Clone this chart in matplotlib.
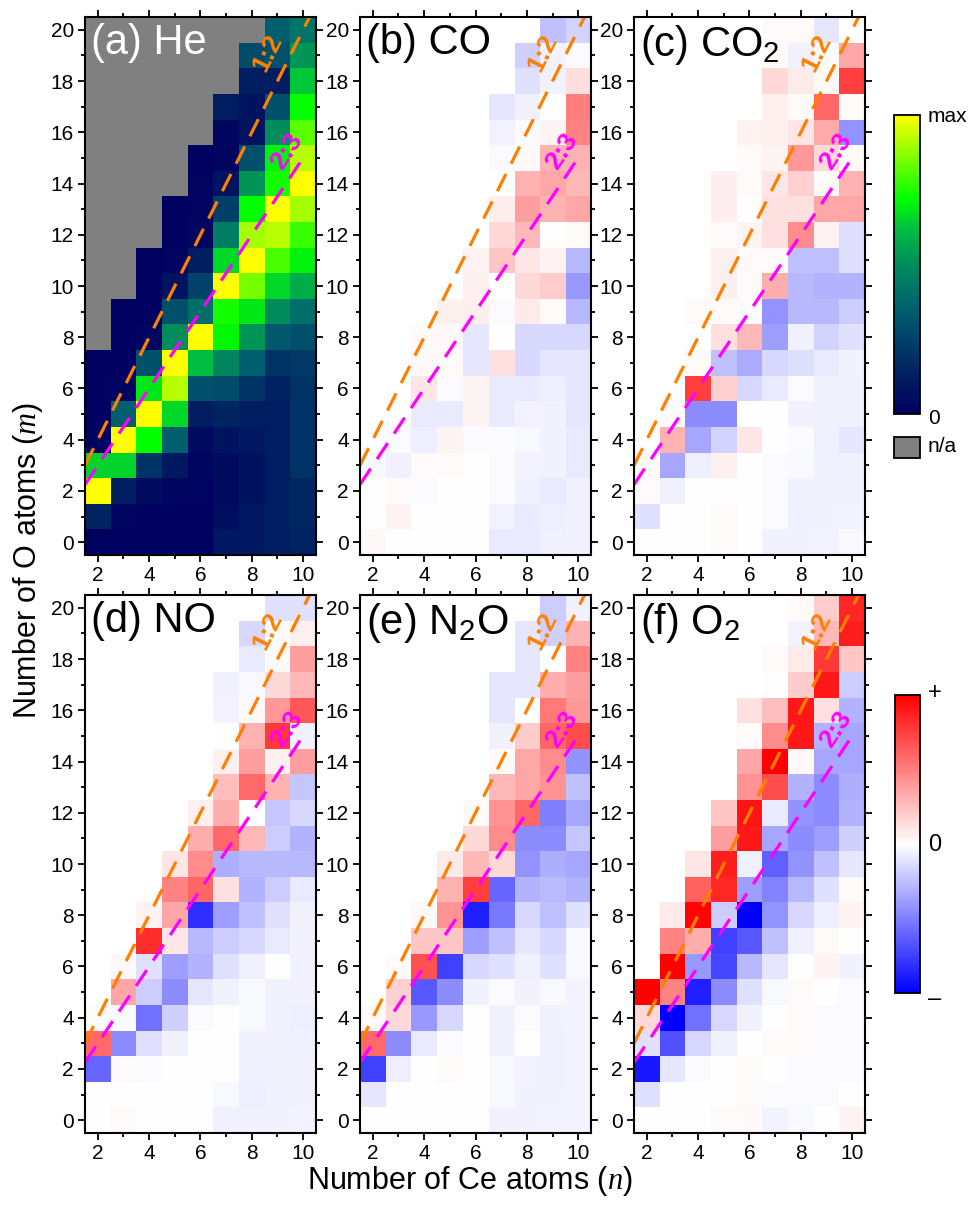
import numpy as np
import matplotlib
matplotlib.use("Agg")
import matplotlib.pyplot as plt
from matplotlib.colors import LinearSegmentedColormap, Normalize
from matplotlib.cm import ScalarMappable
from matplotlib.patches import Rectangle

plt.rcParams['font.family'] = ['Liberation Sans', 'DejaVu Sans']
plt.rcParams['mathtext.fontset'] = 'custom'
plt.rcParams['mathtext.rm'] = 'Liberation Sans'
plt.rcParams['mathtext.it'] = 'Liberation Serif:italic'
plt.rcParams['mathtext.default'] = 'rm'

# cluster sizes: Ce atoms (columns) and O atoms (rows)
n_atoms = np.arange(2, 11)
m_atoms = np.arange(0, 21)

# each inner list is one n column, values for m = 0, 1, 2, ...
# (a) He: relative abundance 0..1, missing cells = n/a
he = [
    [0, 0.15, 1.0, 0.65, 0.02, 0.01, 0.01, 0.0],
    [0, 0.02, 0.12, 0.65, 1.0, 0.35, 0.02, 0.0, 0.0, 0.0],
    [0, 0, 0.05, 0.2, 0.72, 1.0, 0.68, 0.3, 0.03, 0.0, 0.0, 0.0],
    [0, 0, 0.03, 0.1, 0.35, 0.66, 0.92, 1.0, 0.5, 0.3, 0.08, 0.02, 0.0, 0.0],
    [0, 0, 0.02, 0.03, 0.05, 0.12, 0.3, 0.62, 1.0, 0.4, 0.25, 0.12, 0.03, 0.02, 0.02, 0.0],
    [0.1, 0.06, 0.05, 0.05, 0.08, 0.15, 0.28, 0.48, 0.71, 0.74, 1.0, 0.66, 0.45, 0.24, 0.08, 0.02, 0.03, 0.12],
    [0.1, 0.1, 0.08, 0.08, 0.1, 0.12, 0.2, 0.35, 0.52, 0.68, 0.85, 1.0, 0.9, 0.72, 0.52, 0.3, 0.08, 0.08, 0.12, 0.28],
    [0.12, 0.12, 0.12, 0.12, 0.12, 0.12, 0.14, 0.2, 0.33, 0.5, 0.66, 0.8, 0.92, 1.0, 0.74, 0.7, 0.5, 0.3, 0.12, 0.3, 0.35],
    [0.15, 0.16, 0.16, 0.2, 0.2, 0.2, 0.2, 0.22, 0.3, 0.4, 0.58, 0.7, 0.78, 0.9, 1.0, 0.92, 0.82, 0.72, 0.63, 0.52, 0.42],
]

# (b)-(f): signed change, -1..+1
co = [
    [0.03, 0, 0, -0.03],
    [0, 0.05, 0.02, -0.06, -0.02],
    [0, 0, -0.02, 0.02, -0.07, -0.08, 0.1, 0.03, 0.02],
    [0, 0, 0, 0.02, 0.04, -0.08, -0.02, 0.02, 0.03, 0.06],
    [0, 0, 0, 0, -0.02, 0.04, 0.04, -0.1, -0.1, 0.07, 0.06, 0.05],
    [-0.08, -0.04, -0.02, -0.02, -0.02, -0.08, -0.08, 0.12, 0, -0.02, 0, 0.22, 0.15, 0.07, 0, -0.02, -0.04, -0.1],
    [-0.08, -0.08, -0.06, -0.04, -0.03, -0.04, -0.08, -0.15, -0.15, 0.08, 0.15, 0.1, 0.28, 0.38, 0.3, 0.02, -0.02, -0.06, -0.12, -0.18],
    [-0.06, -0.07, -0.08, -0.05, -0.05, -0.05, -0.07, -0.1, -0.15, 0.02, 0.2, 0.05, 0, 0.3, 0.35, 0.3, 0.04, 0, -0.05, -0.04, -0.25],
    [-0.05, -0.05, -0.05, -0.08, -0.08, -0.1, -0.1, -0.1, -0.15, -0.28, -0.4, -0.28, 0.02, 0.35, 0.28, 0.3, 0.48, 0.5, 0.13, -0.02, -0.17],
]
co2 = [
    [0, -0.12, 0.02, 0.02],
    [0, 0, -0.05, -0.35, 0.3, 0.02],
    [0, 0, 0, -0.07, -0.35, -0.45, 0.75, 0.02, 0, 0.02],
    [0.02, 0.02, 0, 0.06, -0.17, -0.45, 0.18, -0.25, 0.12, 0.02, 0.06, 0.06, 0.02, 0.07, 0.07],
    [0, 0, 0, 0, 0.1, 0, -0.15, -0.33, 0.28, -0.02, 0.02, 0.02, 0.04, 0, 0.02, 0.02, 0.05],
    [-0.05, -0.02, -0.02, -0.02, 0, 0, -0.08, -0.15, -0.38, -0.42, 0.32, 0.02, 0.12, 0.12, 0.1, 0.04, 0.06, 0.06, 0.15, 0.02, 0.02],
    [-0.05, -0.06, -0.05, -0.03, -0.02, -0.05, -0.02, -0.13, -0.06, -0.28, -0.28, -0.25, 0.45, 0.12, 0.18, 0.4, 0.1, 0.02, 0.08, -0.05, 0.02],
    [-0.04, -0.05, -0.05, -0.06, -0.06, -0.05, -0.05, -0.08, -0.17, -0.28, -0.3, -0.25, 0.05, 0.35, 0.02, 0.15, 0.33, 0.6, 0.03, 0.02, -0.1],
    [-0.03, -0.04, -0.06, -0.06, -0.1, -0.06, -0.06, -0.05, -0.12, -0.2, -0.3, -0.13, -0.13, 0.35, 0.3, 0.02, -0.42, 0.02, 0.75, 0.35, 0],
]
no = [
    [0, 0, -0.6, 0.58, 0.02],
    [0.02, 0, 0.02, -0.45, -0.02, 0.35, 0.03],
    [0, 0, -0.02, -0.12, -0.55, -0.2, -0.12, 0.82, 0.05],
    [0, 0, 0, -0.05, -0.18, -0.45, -0.38, 0.1, 0.35, 0.48, 0.1],
    [0, 0, 0, 0, -0.02, -0.1, -0.3, -0.28, -0.82, 0.6, 0.45, 0.32, 0.06],
    [-0.06, -0.03, 0, 0, 0, -0.05, -0.12, -0.2, -0.38, 0.12, -0.32, 0.58, 0.32, 0.25, 0.06, 0, -0.04, -0.06],
    [-0.06, -0.07, -0.06, -0.05, -0.03, -0.03, -0.06, -0.15, -0.25, -0.3, -0.28, 0.28, 0, 0.58, 0.38, 0.3, 0.03, -0.03, -0.08, -0.15],
    [-0.05, -0.06, -0.05, -0.05, -0.05, -0.05, 0, -0.08, -0.12, -0.2, -0.28, -0.2, -0.22, 0.3, 0.06, 0.78, 0.4, 0.15, 0.02, 0.02, -0.12],
    [-0.04, -0.05, -0.05, -0.06, -0.07, -0.05, -0.05, -0.05, -0.05, -0.08, -0.28, -0.3, -0.15, -0.22, 0.38, -0.05, 0.65, 0.28, 0.38, 0.06, -0.12],
]
n2o = [
    [0, -0.1, -0.75, 0.58, 0.03],
    [0, 0, -0.07, -0.45, 0.15, 0.18, 0.02],
    [0, 0, 0, -0.08, -0.4, -0.65, 0.68, 0.22, 0.03],
    [0, 0, 0.02, -0.02, -0.15, -0.45, -0.75, 0.22, 0.42, 0.3, 0.08],
    [0, 0, 0, 0, 0, -0.05, -0.15, -0.38, -0.88, 0.75, 0.28, 0.15, 0.02],
    [-0.05, -0.03, -0.03, -0.05, -0.05, -0.02, -0.12, -0.25, -0.52, -0.6, 0.15, 0.45, 0.42, 0.28, 0.02, -0.05, -0.1, -0.1],
    [-0.05, -0.05, -0.04, 0, -0.02, -0.05, -0.06, -0.1, -0.15, -0.3, -0.42, -0.45, 0.6, 0.35, 0.35, 0.2, 0, -0.1, -0.1, -0.1],
    [-0.04, -0.05, -0.06, -0.06, -0.05, -0.03, -0.12, -0.15, -0.25, -0.27, -0.32, -0.45, -0.5, 0.42, 0.45, 0.6, 0.52, 0.32, 0, -0.18, -0.2],
    [-0.04, -0.04, -0.04, -0.04, -0.04, -0.04, -0.03, -0.03, -0.12, -0.3, -0.35, -0.22, -0.35, -0.25, -0.42, 0.7, 0.4, 0.38, 0.48, 0.3, -0.06],
]
o2 = [
    [0, -0.12, -0.9, -0.12, 0.15, 1.0],
    [0, 0, -0.1, -0.68, -1.0, 0.48, 1.0, 0.48, 0.08],
    [0, 0, -0.02, -0.15, -0.55, -0.88, -0.4, 0.32, 0.98, 0.62, 0.1],
    [0.02, 0, 0, -0.05, -0.15, -0.45, -0.72, -0.75, -0.2, 0.85, 0.88, 0.38, 0.22],
    [0.03, 0.02, 0.02, 0, -0.05, -0.12, -0.28, -0.65, -1.0, -0.38, -0.06, 0.9, 0.92, 0.42, 0.35, 0.02, 0.12],
    [-0.04, -0.02, 0, 0.02, 0, -0.03, -0.1, -0.25, -0.42, -0.48, -0.62, -0.35, -0.08, 0.7, 1.0, 0.45, 0.25, 0, 0.02],
    [-0.03, -0.02, -0.02, 0.02, 0.02, 0.02, 0, -0.06, -0.15, -0.28, -0.42, -0.45, -0.42, -0.3, 0.03, 0.9, 0.9, 0.2, 0.08, -0.04, 0.02],
    [0, -0.02, -0.02, -0.02, -0.02, 0, 0.04, 0.02, -0.07, -0.12, -0.25, -0.38, -0.45, -0.45, -0.35, -0.3, 0.12, 0.9, 0.78, 0.28, 0.2],
    [0.05, 0, -0.02, -0.02, -0.02, -0.02, -0.05, 0, 0.04, 0.02, -0.1, -0.18, -0.3, -0.32, -0.35, -0.35, -0.3, -0.2, 0.22, 0.88, 0.85],
]

panels = [he, co, co2, no, n2o, o2]
labels = ['(a) He', '(b) CO', '(c) CO$_2$', '(d) NO', '(e) N$_2$O', '(f) O$_2$']

# stoichiometry guide lines  m = slope * n
ratio_text = ['1:2', '2:3']
ratio_slope = [2.0, 1.5]
ratio_end = [10.25, 9.9]
ratio_color = ['#ff8000', '#ff00ff']
ratio_pos = [(8.6, 19.1), (9.35, 15.25)]


def to_grid(cols):
    grid = np.full((len(m_atoms), len(n_atoms)), np.nan)
    for j, col in enumerate(cols):
        grid[:len(col), j] = col
    return grid


he_cmap = LinearSegmentedColormap.from_list('he', [
    (0.0, '#000060'), (0.15, '#002562'), (0.35, '#006070'), (0.5, '#008c5c'),
    (0.62, '#00c040'), (0.72, '#00ff00'), (1.0, '#ffff00')])
he_cmap.set_bad('#808080')
diff_cmap = plt.get_cmap('bwr').copy()
diff_cmap.set_bad('white')

fig = plt.figure(figsize=(9.7, 12.17), dpi=100)
W, H = 970, 1217
lefts = [85, 360, 634]
tops = [17, 595]
aw, ah = 231, 538

ext = (n_atoms[0] - 0.5, n_atoms[-1] + 0.5, m_atoms[0] - 0.5, m_atoms[-1] + 0.5)
pw = aw / (ext[1] - ext[0])
ph = ah / (ext[3] - ext[2])

for k, (cols, lab) in enumerate(zip(panels, labels)):
    r, c = divmod(k, 3)
    ax = fig.add_axes([lefts[c] / W, 1 - (tops[r] + ah) / H, aw / W, ah / H])
    if k == 0:
        ax.imshow(to_grid(cols), cmap=he_cmap, vmin=0, vmax=1, origin='lower',
                  extent=ext, aspect='auto', interpolation='nearest')
        tcol = 'white'
    else:
        ax.imshow(to_grid(cols), cmap=diff_cmap, vmin=-1, vmax=1, origin='lower',
                  extent=ext, aspect='auto', interpolation='nearest')
        tcol = 'black'

    for txt, s, xe, col, pos in zip(ratio_text, ratio_slope, ratio_end, ratio_color, ratio_pos):
        xs = np.array([ext[0], xe])
        ax.plot(xs, s * xs, color=col, lw=2.3, dashes=(6, 3.6))
        ang = np.degrees(np.arctan(s * ph / pw))
        ax.text(pos[0], pos[1], txt, color=col, fontsize=19, fontweight='bold',
                rotation=ang, rotation_mode='anchor', ha='center', va='center')

    ax.set_xlim(ext[0], ext[1])
    ax.set_ylim(ext[2], ext[3])
    ax.set_xticks([2, 4, 6, 8, 10])
    ax.set_xticks([3, 5, 7, 9], minor=True)
    ax.set_yticks(np.arange(0, 21, 2))
    ax.set_yticks(np.arange(1, 21, 2), minor=True)
    ax.tick_params(which='both', direction='out', top=True, right=True,
                   width=1.3, labelsize=15, pad=3)
    ax.tick_params(which='major', length=5)
    ax.tick_params(which='minor', length=3)
    for sp in ax.spines.values():
        sp.set_linewidth(1.5)
    ax.text(0.025, 0.988, lab, transform=ax.transAxes, fontsize=30,
            color=tcol, ha='left', va='top')

fig.text(0.029, 1 - 560 / H, 'Number of O atoms ($\\mathit{m}$)', rotation=90,
         fontsize=22, ha='center', va='center')
fig.text(470 / W, 1 - 1181 / H, 'Number of Ce atoms ($\\mathit{n}$)',
         fontsize=22, ha='center', va='center')

# colour bars
cax1 = fig.add_axes([894 / W, 1 - 414 / H, 26 / W, 299 / H])
cb1 = fig.colorbar(ScalarMappable(Normalize(0, 1), he_cmap), cax=cax1)
cb1.set_ticks([])
cb1.outline.set_linewidth(1.3)
fig.text(928 / W, 1 - 122 / H, 'max', fontsize=15, ha='left', va='baseline')
fig.text(928 / W, 1 - 418 / H, '0', fontsize=15, ha='left', va='center')
fig.patches.append(Rectangle((894 / W, 1 - 458 / H), 26 / W, 21 / H,
                             transform=fig.transFigure, facecolor='#808080',
                             edgecolor='black', lw=1.3))
fig.text(928 / W, 1 - 447 / H, 'n/a', fontsize=15, ha='left', va='center')

cax2 = fig.add_axes([895 / W, 1 - 993 / H, 25 / W, 298 / H])
cb2 = fig.colorbar(ScalarMappable(Normalize(-1, 1), diff_cmap), cax=cax2)
cb2.set_ticks([])
cb2.outline.set_linewidth(1.3)
fig.text(928 / W, 1 - 693 / H, '+', fontsize=17, ha='left', va='center')
fig.text(928 / W, 1 - 845 / H, '0', fontsize=17, ha='left', va='center')
fig.text(928 / W, 1 - 999 / H, '\u2013', fontsize=17, ha='left', va='center')

fig.savefig('out.png', dpi=100)
